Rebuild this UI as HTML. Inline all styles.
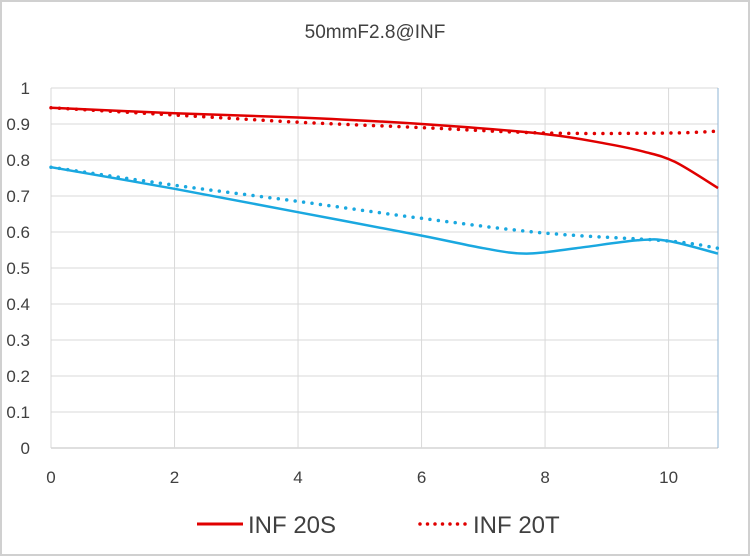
<!DOCTYPE html>
<html><head><meta charset="utf-8"><style>
body{margin:0;background:#fff;}
svg{display:block;font-family:"Liberation Sans",sans-serif;}
</style></head><body>
<svg id="c" width="750" height="556">
<rect x="1" y="1" width="748" height="554" fill="#fff" stroke="#d0d0d0" stroke-width="2"/>
<text x="375" y="38" text-anchor="middle" font-size="19" fill="#404040">50mmF2.8@INF</text>
<g id="grid"></g><g id="series"></g><g id="ticks"></g>
<g>
<line x1="197" y1="524" x2="243" y2="524" stroke="#e00000" stroke-width="3"/>
<text x="248" y="533" font-size="24" fill="#404040">INF 20S</text>
<line x1="420" y1="524" x2="466" y2="524" stroke="#e00000" stroke-width="3.5" stroke-dasharray="0 7.5" stroke-linecap="round"/>
<text x="473" y="533" font-size="24" fill="#404040">INF 20T</text>
</g>
</svg>
<script>
const xTicks=[0,2,4,6,8,10];
const yTicks=[0,0.1,0.2,0.3,0.4,0.5,0.6,0.7,0.8,0.9,1];
const yLabels=["0","0.1","0.2","0.3","0.4","0.5","0.6","0.7","0.8","0.9","1"];
const redSX=[0,2,4,6,8,9,9.6,10.1,10.8];
const redSY=[0.945,0.93,0.918,0.9,0.872,0.845,0.823,0.795,0.722];
const redTX=[0,2,4,6,8,10,10.8];
const redTY=[0.945,0.925,0.905,0.89,0.875,0.875,0.88];
const bluSX=[0,2,4,6,7,7.7,8.5,9.5,10,10.8];
const bluSY=[0.78,0.72,0.655,0.59,0.555,0.54,0.555,0.577,0.575,0.54];
const bluTX=[0,2,4,6,8,10,10.8];
const bluTY=[0.78,0.73,0.685,0.638,0.597,0.575,0.555];
const X0=51,X1=718,XMAX=10.8,Y0=448,Y1=88;
const sx=v=>X0+v*(X1-X0)/XMAX, sy=v=>Y0-v*(Y0-Y1);
const NS="http://www.w3.org/2000/svg";
function mk(t,a,p){const e=document.createElementNS(NS,t);for(const k in a)e.setAttribute(k,a[k]);p.appendChild(e);return e;}
const grid=document.getElementById('grid'),ticks=document.getElementById('ticks'),ser=document.getElementById('series');
yTicks.forEach((v,i)=>{
 const l=mk('line',{x1:X0,x2:X1,y1:sy(v),y2:sy(v),stroke:i==0?'#bfbfbf':'#d9d9d9','stroke-width':1},grid);
 
 
 const t=mk('text',{x:30,y:sy(v)+6,'text-anchor':'end','font-size':17,fill:'#404040'},ticks);
 t.textContent=yLabels[i];
 
 
});
xTicks.forEach(v=>{
 const l=mk('line',{x1:sx(v),x2:sx(v),y1:Y1,y2:Y0,stroke:'#d9d9d9','stroke-width':1},grid);
 
 
 const t=mk('text',{x:sx(v),y:483,'text-anchor':'middle','font-size':17,fill:'#404040'},ticks);
 t.textContent=v;
 
 
});
const rb=mk('line',{x1:X1,x2:X1,y1:Y1,y2:Y0,stroke:'#8fb4d6','stroke-width':1},grid);


function path(xs,ys){
 const p=xs.map((x,i)=>[sx(x),sy(ys[i])]);
 let d='M'+p[0][0]+','+p[0][1];
 for(let i=0;i<p.length-1;i++){
  const a=p[i-1]||p[i],b=p[i],c=p[i+1],e=p[i+2]||c;
  d+=' C'+(b[0]+(c[0]-a[0])/6)+','+(b[1]+(c[1]-a[1])/6)+' '+(c[0]-(e[0]-b[0])/6)+','+(c[1]-(e[1]-b[1])/6)+' '+c[0]+','+c[1];
 }
 return d;
}
function draw(xs,ys,col,dot,name){
 const a={d:path(xs,ys),fill:'none',stroke:col,'stroke-width':dot?3.5:2.5};
 if(dot){a['stroke-dasharray']='0 8.5';a['stroke-linecap']='round';}
 const e=mk('path',a,ser);
 
 
}
draw(bluTX,bluTY,'#1aa8e0',true,'line-blue-tangential');
draw(bluSX,bluSY,'#1aa8e0',false,'line-blue-sagittal');
draw(redTX,redTY,'#e00000',true,'line-inf-20t');
draw(redSX,redSY,'#e00000',false,'line-inf-20s');
</script>
</body></html>
